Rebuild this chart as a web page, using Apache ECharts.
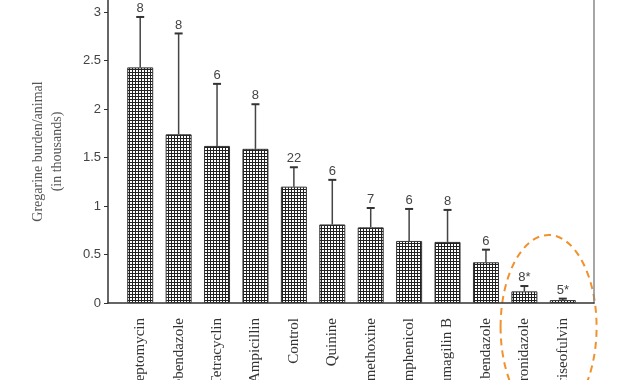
<!DOCTYPE html>
<html><head><meta charset="utf-8">
<script src="https://cdn.jsdelivr.net/npm/echarts@6/dist/echarts.min.js"></script>
<style>html,body{margin:0;padding:0;background:#fff}#c{width:630px;height:380px}</style>
</head><body><div id="c"></div>
<script>
const categories = ['Streptomycin','Mebendazole','Tetracyclin','Ampicillin','Control','Quinine','Sulfadimethoxine','Chloramphenicol','Fumagilin B','Albendazole','Metronidazole','Griseofulvin'];
const means = [2.43, 1.74, 1.62, 1.59, 1.20, 0.81, 0.78, 0.64, 0.63, 0.42, 0.12, 0.03];
const errUpper = [2.95, 2.78, 2.26, 2.05, 1.40, 1.27, 0.98, 0.97, 0.96, 0.55, 0.175, 0.045];
const nLabels = ['8', '8', '6', '8', '22', '6', '7', '6', '8', '6', '8*', '5*'];
const yTicks = [0, 0.5, 1, 1.5, 2, 2.5, 3];

const pc = document.createElement('canvas'); pc.width = 3; pc.height = 3;
const g = pc.getContext('2d');
g.fillStyle = '#fff'; g.fillRect(0, 0, 3, 3);
g.fillStyle = '#222'; g.fillRect(0, 0, 3, 1); g.fillRect(0, 0, 1, 3);

const chart = echarts.init(document.getElementById('c'), null, {renderer: 'canvas'});
const YMAX = 3.125;
chart.setOption({
  animation: false,
  backgroundColor: '#fff',
  grid: [
    {left: 121, right: 48, top: 0, bottom: 77, containLabel: false, outerBoundsMode: 'none'},
    {left: 108, right: 36, top: 0, bottom: 77, containLabel: false, outerBoundsMode: 'none'}
  ],
  xAxis: [
    {type: 'category', gridIndex: 0, data: categories,
     axisLine: {show: false}, axisTick: {show: false},
     axisLabel: {rotate: 90, margin: 15, interval: 0, hideOverlap: false, fontFamily: 'Liberation Serif', fontSize: 15, color: '#333'}},
    {type: 'value', gridIndex: 1, min: 0, max: 1,
     axisLine: {show: true, lineStyle: {color: '#333', width: 1.5}},
     axisTick: {show: false}, axisLabel: {show: false}, splitLine: {show: false}}
  ],
  yAxis: [
    {type: 'value', gridIndex: 0, min: 0, max: YMAX, show: false, splitLine: {show: false}},
    {type: 'value', gridIndex: 1, min: 0, max: YMAX, position: 'left',
     name: 'Gregarine burden/animal\n(in thousands)', nameLocation: 'middle', nameGap: 41,
     nameTextStyle: {fontFamily: 'Liberation Serif', fontSize: 14, color: '#555', lineHeight: 19},
     axisLine: {show: true, lineStyle: {color: '#333', width: 1.5}},
     axisTick: {show: true, length: 4, customValues: yTicks, lineStyle: {color: '#333'}},
     axisLabel: {customValues: yTicks, fontFamily: 'Liberation Sans', fontSize: 13, color: '#444', margin: 7},
     splitLine: {show: false}},
    {type: 'value', gridIndex: 1, min: 0, max: YMAX, position: 'right',
     axisLine: {show: true, lineStyle: {color: '#888', width: 1.5}},
     axisTick: {show: false}, axisLabel: {show: false}, splitLine: {show: false}}
  ],
  series: [
    {type: 'bar', xAxisIndex: 0, yAxisIndex: 0, data: means, barWidth: 26,
     itemStyle: {color: {image: pc, repeat: 'repeat'}, borderColor: '#333', borderWidth: 1}},
    {type: 'custom', xAxisIndex: 0, yAxisIndex: 0,
     data: categories.map((c, i) => [i, means[i], errUpper[i]]),
     encode: {x: 0, y: [1, 2]},
     renderItem: function (params, api) {
       const i = api.value(0);
       const b = api.coord([i, api.value(1)]);
       const t = api.coord([i, api.value(2)]);
       return {type: 'group', children: [
         {type: 'line', shape: {x1: b[0], y1: b[1], x2: t[0], y2: t[1]}, style: {stroke: '#444', lineWidth: 1.5}},
         {type: 'line', shape: {x1: t[0] - 4, y1: t[1], x2: t[0] + 4, y2: t[1]}, style: {stroke: '#333', lineWidth: 2}},
         {type: 'text', style: {text: nLabels[params.dataIndex], x: t[0], y: t[1] - 2, textAlign: 'center', textVerticalAlign: 'bottom',
           font: '13px "Liberation Sans"', fill: '#444'}}
       ]};
     }}
  ]
});
const p10 = chart.convertToPixel({gridIndex: 0}, [10, 0]);
const p11 = chart.convertToPixel({gridIndex: 0}, [11, 0]);
chart.setOption({graphic: [{type: 'ellipse', silent: true,
  shape: {cx: (p10[0] + p11[0]) / 2 + 5, cy: p10[1] + 24, rx: 48, ry: 92},
  style: {fill: 'none', stroke: '#F0922E', lineWidth: 2, lineDash: [7, 5]}}]});
</script></body></html>
